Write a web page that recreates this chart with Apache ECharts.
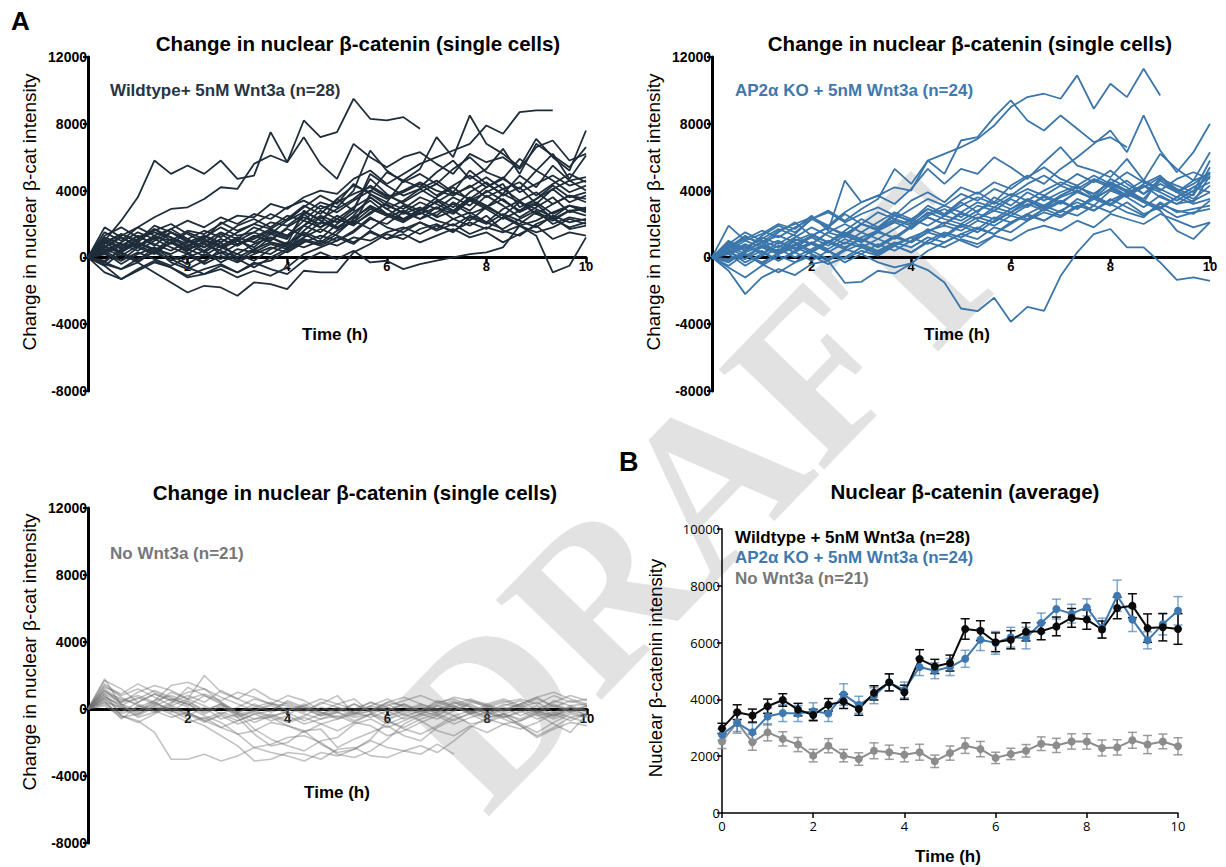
<!DOCTYPE html>
<html><head><meta charset="utf-8">
<script src="https://cdn.jsdelivr.net/npm/echarts@6/dist/echarts.min.js"></script>
<style>html,body{margin:0;padding:0;background:#fff}#c{width:1226px;height:867px}</style>
</head><body><div id="c"></div>
<script>
// Time points (h), every 20 min
const timeH = [0,0.333,0.667,1,1.333,1.667,2,2.333,2.667,3,3.333,3.667,4,4.333,4.667,5,5.333,5.667,6,6.333,6.667,7,7.333,7.667,8,8.333,8.667,9,9.333,9.667,10];
const xTicks = [0,2,4,6,8,10];

// Wildtype + 5nM Wnt3a single cells (change in nuclear beta-cat intensity)
const wtCells = [
[0,1000,2200,3600,5800,5000,5500,5000,5800,4700,4900,7500,5700,8200,7200,7500,9500,8300,8200,8400,7700],
[0,600,1300,1800,2400,2900,3000,3500,4200,4100,5600,6100,5700,7200,5600,4700,6800,6000,5400,6000,6300,5600,5000,6200,5700,6000,5300,6600,7000,5800,6200],
[0,300,800,600,1200,1000,1600,1400,2000,2500,2400,3200,2900,3600,4000,3800,4700,5200,4400,5000,5600,6000,6400,6800,7900,7400,8700,8800,8800],
[0,-300,500,900,400,1100,700,1300,900,1500,2000,1700,2300,3100,2600,3500,4300,3900,5100,4600,5300,7200,6000,8500,6800,6200,5400,7100,6000,5200,7600],
[0,1500,1000,1800,1300,800,1500,1100,2100,1600,2000,2600,2200,3000,3700,3200,4400,3800,3300,4600,4200,5100,5800,4700,5300,6500,5000,6800,6100,5400,6600],
[0,800,1400,900,1700,1200,600,1200,1800,1300,1500,2100,1900,2600,3300,3000,4000,6400,5200,4500,5000,4400,5300,6000,5100,4700,5900,5200,6200,4700,6100],
[0,1100,600,1300,700,1500,1000,400,1100,700,1300,1000,1800,2400,2000,3500,2800,5000,4300,3700,4100,4600,3900,5200,4400,3800,4900,4200,5500,4600,4800],
[0,400,-200,600,200,900,300,-300,500,1000,600,1400,1100,2600,1800,2300,3000,3600,2900,3400,4100,3500,3000,3900,4500,3700,4200,3200,4100,4600,4000],
[0,900,300,1100,1700,1000,500,900,200,800,1300,900,700,1900,2500,2100,2900,4700,3800,3200,2800,3600,4200,3400,3900,4400,3000,3500,4300,3600,3900],
[0,-500,300,-200,600,100,-400,200,-100,500,300,800,500,1500,1100,2000,2700,3400,2600,2300,2900,2500,3300,2800,3700,3100,2400,3000,3600,2700,3000],
[0,600,1200,700,300,900,400,1000,600,200,800,1200,700,1600,2400,1800,2100,2900,2500,3100,2600,3400,2800,2200,3000,3500,2700,3200,2300,2800,2900],
[0,200,700,1300,800,400,1000,600,1400,800,1100,1600,1300,1900,1500,2300,1900,2700,3200,2600,3000,2400,2800,3600,3100,2500,3300,2900,2400,3100,2700],
[0,1200,800,400,1000,1500,900,1300,700,1100,400,1200,800,2800,2200,1700,2500,3600,2900,2300,2600,3000,2300,2700,2100,2900,3400,2600,2200,2800,2500],
[0,-300,-700,-100,300,-200,200,-400,100,-300,200,600,300,900,1300,1000,1600,2400,1800,1500,2100,1700,2300,1900,2500,1600,1300,2000,2400,1700,1900],
[0,300,-400,200,600,-100,-600,-1000,-500,-900,-400,-200,400,1000,700,1200,800,1600,1100,1400,900,1300,1700,1200,1500,900,1400,1900,1100,1500,1300],
[0,500,100,700,1100,600,200,800,400,0,500,900,600,1200,1700,1300,900,1500,1100,1700,2100,1600,2000,1400,1800,1500,1900,1300,-900,-500,1200],
[0,-500,-1300,-800,-300,-600,-1100,-700,-400,-900,-300,-700,-1000,-200,300,-100,400,-300,-200,-700,-400,-200,0,200,300,600,1900,1500,1800,2300,2000],
[0,-400,-700,-300,-900,-1500,-2100,-1700,-1800,-2300,-1500,-1600,-1900,-800,-900,-900,300,800,1400,1100,1700,2000,1500,2400,2000,2600,2200,1800,2500,2100,2300],
[0,-900,-1300,-700,-200,-600,-1200,-1000,-700,-1200,-800,-1100,-600,200,600,1000,1500,2300,2000,2700,2300,3000,2600,3400,2900,2300,2800,3300,2600,3100,2800],
[0,700,200,-300,400,900,500,100,700,1200,900,1500,1200,1900,2800,2300,2000,2600,3300,2900,3600,3200,2700,3500,3000,3800,3300,2600,3200,3700,3300],
[0,1300,1800,1200,1600,2000,1400,900,1500,1100,1800,1400,2200,2700,2300,2900,3500,4300,3700,3300,3900,4400,3800,4200,4800,4100,4500,3700,4400,5000,4500],
[0,400,900,1500,1100,1700,2200,1800,2400,2000,2600,2300,3000,3400,2900,3300,3800,4200,3600,4000,4500,4000,3700,4300,3600,4100,3400,3900,3200,3700,3500],
[0,1000,500,1100,1500,1200,800,300,900,-100,-600,0,500,1100,800,1400,2300,3100,2600,2200,2800,3300,3900,3500,4200,4800,3900,4400,4900,4300,4600],
[0,-200,400,800,500,-300,-700,-200,300,-200,400,200,800,1400,900,1600,2200,1700,2400,2800,2300,2700,3200,2600,3000,2500,2000,2700,2300,1800,2100],
[0,600,300,900,500,200,700,1100,600,1000,1500,1100,1700,1300,2100,1800,2400,3000,2500,2100,2700,2200,1900,2500,2100,1700,2300,2800,2000,2400,2200],
[0,200,-200,300,-100,-500,0,400,-300,200,-200,500,900,600,1000,700,1200,1000,1500,1800,1400,1900,1600,2100,1700,2400,1900,2200,2700,3100,2900],
[0,1800,1200,700,1300,1700,1100,600,1100,700,1200,1700,1300,2200,1800,2500,2000,3800,3100,2700,3300,2900,3600,3100,4000,3400,2800,3500,4100,3300,3700],
[0,900,1400,1000,1900,1500,1100,1600,1200,1900,2300,1800,2500,2200,3100,2700,3400,4000,3500,3900,4400,3700,4300,4900,4200,4700,4100,5200,4600,3900,4300]
];

// AP2alpha KO + 5nM Wnt3a single cells
const koCells = [
[0,500,1200,900,1600,2000,2400,1900,2700,3300,3700,4200,4000,5800,6200,6600,7100,7900,9000,9600,9800,9500,10900,8900,10400,9600,11300,9700],
[0,800,400,1300,1900,1500,2300,2800,2200,2900,3500,5300,4400,5800,5000,7000,7200,8400,9400,8200,7600,8500,7700,6900,7200,6600],
[0,300,-100,700,400,1100,800,1500,1200,2000,1700,2500,2200,3100,2600,3400,3900,3300,4300,4900,4400,5300,6000,6800,7600,6300,8500,6400,5100,6300,8000],
[0,1900,1000,1400,2000,1700,2500,1600,4600,3300,3700,3200,4100,5300,4400,5300,5000,6000,5400,4700,5700,6600,5500,5200,4800,5900,4600,6200,5300,4600,6300],
[0,600,1300,700,1500,2100,1300,1800,2600,2000,2700,2300,2900,3500,3100,3800,3400,4100,3700,4400,4900,4300,5000,4500,5200,4400,3800,4700,4300,3900,5800],
[0,-300,400,900,300,1000,1400,900,1600,2300,1800,2600,2100,2900,2500,3300,2700,3600,3100,3900,3400,3900,4300,3600,4700,4200,3300,4800,4100,3700,5400],
[0,700,200,-400,300,800,300,900,500,1200,1600,1100,1800,2400,2000,2600,2300,2800,2500,3100,3600,3200,4000,3500,4400,3900,4300,3600,3200,3800,5100],
[0,400,1000,600,200,700,1200,700,1300,900,1500,1200,1900,2400,2000,2700,2300,3000,2700,3400,2900,3700,4200,3800,4500,4000,3500,4600,3900,3300,4900],
[0,-600,-1200,-500,100,-300,400,-100,500,200,800,400,1000,1700,1300,2000,1700,2400,2100,2600,3100,2700,3500,3100,4000,3600,3000,3700,3200,3400,3900],
[0,300,800,300,-200,400,800,300,900,600,1100,700,1200,1600,1900,1600,2200,1900,2500,2200,2900,2500,3100,2800,3500,3000,2500,3200,2800,2600,3400],
[0,200,-500,100,500,0,500,1000,600,1100,700,1300,900,1500,1200,1900,1500,2200,2700,2300,2900,3400,2900,3700,3200,2700,2400,3300,2700,2900,3100],
[0,-200,200,-300,200,600,200,-200,400,800,400,900,600,1200,900,1400,1800,1400,2100,2500,2200,2800,2500,3100,2700,3300,2600,3000,2400,2700,2900],
[0,500,100,600,1000,500,900,400,-100,400,100,700,300,900,600,1100,800,1300,1000,1600,1900,1600,2200,1800,2600,2300,2000,2600,2200,1800,2100],
[0,300,-100,400,-200,300,-200,400,-300,200,-300,-600,-360,-760,-1500,-3060,-3220,-2420,-3860,-2960,-3200,-1120,300,1400,1700,600,600,-300,-1340,-1200,-1400],
[0,-800,-2200,-1200,-700,-1060,-400,-200,-1520,-1460,-800,-960,-360,400,900,1400,1100,1800,1500,2200,2700,2400,3000,3600,3200,3900,3400,3000,3600,4200,3900],
[0,1000,500,1200,800,1400,2300,1800,1300,2000,1600,2200,1900,2700,2300,2000,2600,2300,2900,3400,3000,3600,4000,3500,4100,4600,3800,4400,3900,4600,5000],
[0,-500,200,-400,-900,-300,100,-400,0,600,200,700,300,1000,1500,1200,1700,1400,2000,2600,2200,2800,3300,2800,3400,3900,3300,2800,1600,1100,2100],
[0,800,1500,1000,600,1200,1800,1300,800,1500,1100,1700,2300,1900,2500,2200,2800,3300,2900,3500,3100,3700,4200,3800,4500,4000,4600,4100,3600,4200,4800],
[0,200,600,1100,1700,1300,800,1500,2000,1500,2100,2700,2300,2900,2500,3100,3600,3200,3800,3400,4000,4500,4100,4700,4300,3700,4400,4900,4000,3500,4300],
[0,-100,300,700,300,800,1300,900,1500,1100,600,1200,900,1500,2100,1800,2400,2100,2700,3200,2800,3300,2900,3500,3100,3800,3300,2900,3600,3200,3500],
[0,600,1100,1600,1200,1800,2300,2700,2100,2600,3000,2500,3400,3900,3300,4200,3800,4500,4100,4800,5400,4700,4300,4900,4400,5100,4500,4000,4700,5100,4700],
[0,900,400,900,1300,900,400,900,1400,1000,1600,2100,1700,2500,2900,2400,3100,2800,3500,3000,3700,3300,3900,3500,4100,3700,4200,4800,3900,4400,5100],
[0,400,-300,200,700,300,900,500,1100,700,300,800,1200,800,1400,1000,600,1300],
[0,300,700,200,900,500,1300,1800,1400,2000,1700,2300,2000,2600,3100,2700,3300,3000,3600,4100,3700,4300,3900,4600,4200,3600,4300,3900,3400,4000,4500]
];

// No Wnt3a single cells
const noCells = [
[0,1800,200,-300,200,600,300,-200,100,-300,-100,300,200,-200,400,100,-300,200,-100,300,-100,400,600,200,-200,300,100,-200,500,200,300],
[0,1200,500,800,400,-100,-600,-1000,-1600,-2200,-3100,-3000,-2600,-2700,-3000,-2400,-2300,-2800,-2900,-2500,-2200,-2600,-1900,-1100,-500,-300,-700,-200,300,-100,200],
[0,900,-400,-700,-1400,-3000,-3000,-2700,-3100,-2800,-2300,-2600,-2800,-3100,-2600,-2800,-2400,-1900,-2300,-2500,-2700,-2100,-2700],
[0,600,-200,400,900,500,100,-400,-800,-1500,-2300,-2100,-1700,-1600,-2000,-2700,-2900,-2500,-1800,-900,-400,-200,400,100,-300,200,500,-100,-500,100,-200],
[0,1100,300,-100,500,1400,1600,1200,400,-200,-600,-500,-1000,-1300,-1200,-2300,-1800,-1400,-1000,-1600,-1900,-1100,-600,-300,-800,-400,-900,-1400,-800,-300,-500],
[0,500,-600,200,-200,300,1300,800,300,-300,-1200,-1800,-2200,-2500,-1900,-1700,-900,-600,-1100,-700,-300,-600,-100,300,-200,-500,-100,-600,-300,100,-400],
[0,1500,800,1200,700,200,600,2000,1000,600,1200,600,300,-100,300,800,-300,-100,400,200,-100,300,700,500,100,400,600,300,800,400,600],
[0,400,-400,-800,-300,200,-200,-700,-400,-900,-600,-300,-700,-400,100,-200,-500,-300,-700,-1100,-600,-300,-700,-200,-600,-900,-700,-300,-900,-1400,-300],
[0,700,200,700,300,1000,600,200,-300,100,600,300,800,500,-100,300,600,-200,200,500,800,400,100,500,300,-100,300,700,100,500,200],
[0,1000,600,300,-100,-500,-200,-700,-1100,-1500,-1300,-800,-1000,-1400,-900,-1300,-800,-300,-900,-500,-100,-400,100,-300,0,-500,-200,200,-400,-100,-300],
[0,300,-300,100,500,800,400,-100,300,-400,-200,-500,-100,300,-200,-600,-300,100,-400,-100,300,0,400,-100,-400,0,300,-200,-600,-200,100],
[0,1300,900,1500,1000,600,300,-300,200,-500,-1500,-2200,-2000,-1300,-2100,-2600,-2400,-1800,-700,-1200,-1500,-1000,-400,-900,-700,-300,-1000,-1600,-1100,-500,-800],
[0,800,100,-200,400,-100,-400,100,-600,-300,-800,-400,-200,-700,-300,0,-400,-100,300,-200,200,-300,100,-200,300,600,200,-300,200,-200,-400],
[0,200,-500,-300,200,-200,500,-100,300,-200,100,400,-100,200,-300,100,-200,200,600,100,-300,200,500,100,-300,100,-400,0,400,800,500],
[0,1100,400,600,1100,700,200,800,400,-200,300,-100,500,100,-200,-500,-100,400,-100,300,-200,200,-100,400,200,-200,200,600,200,-100,200],
[0,600,0,-400,100,-300,-800,-500,-1100,-700,-300,-700,-400,-900,-600,-400,-800,-1000,-1600,-1300,-800,-400,-900,-500,-200,-600,-1000,-1700,-1200,-800,-1000],
[0,900,400,1000,1400,1100,600,900,500,1000,700,300,-100,200,600,300,0,400,100,-300,100,-200,300,600,200,-100,300,700,1000,600,300],
[0,400,100,-100,300,0,-300,-600,-200,-500,-100,-400,-800,-500,-900,-600,-200,-500,-100,-600,-300,0,-400,-100,-500,-300,0,-400,-200,-500,-300],
[0,1400,700,200,-100,400,800,400,1100,600,200,-200,100,-300,-600,-200,-700,-300,100,-400,-100,500,200,-200,100,-300,-600,-100,-400,100,-100],
[0,700,300,-500,-200,100,-300,-800,-300,-700,-300,-100,400,0,-400,-100,300,-200,-600,-300,-700,-1300,-1600,-1000,-1400,-900,-1200,-800,-300,-700,-300],
[0,1700,1200,400,900,500,1000,1200,700,300,-100,200,-300,100,-400,-200,300,-100,400,700,300,-100,200,-300,200,500,100,400,-200,200,-100]
];

// Averages (nuclear beta-catenin intensity) and error bars
const wtMean = [2980,3550,3430,3760,3980,3640,3450,3810,3930,3660,4230,4600,4250,5420,5160,5280,6480,6420,6010,6100,6380,6400,6570,6870,6810,6460,7220,7300,6510,6540,6480];
const wtSem  = [180,260,230,250,220,220,200,220,250,220,250,300,250,330,250,280,360,350,330,320,320,300,330,330,340,300,380,420,500,480,540];
const koMean = [2760,3170,2840,3400,3520,3500,3580,3500,4170,3810,4130,4600,4330,5140,5010,5140,5430,6100,5990,6190,6160,6690,7180,7020,7240,6510,7650,6810,6080,6650,7120];
const koSem  = [200,300,330,300,300,280,300,280,380,300,280,300,280,300,280,300,300,380,400,350,380,350,350,330,300,350,550,420,300,380,500];
const noMean = [2520,3190,2490,2840,2610,2410,2020,2370,2020,1900,2190,2140,2050,2140,1820,2110,2370,2250,1940,2080,2190,2440,2380,2520,2520,2290,2310,2560,2410,2520,2350];
const noSem  = [250,380,280,300,250,250,220,250,220,220,280,250,250,280,220,250,270,270,200,200,220,240,250,270,270,280,270,280,320,260,300];

const singleYTicks = {min:-8000, max:12000, interval:4000};
const avgYTicks = {min:0, max:10000, interval:2000};

const C_WT = '#1f2d3a', C_KO = '#3b76ab', C_NO = 'rgba(110,110,110,0.42)';
const AVG_BLACK = '#0a0a0a', AVG_BLUE = '#3d78b0', AVG_GRAY = '#8c8c8c';
const SANS = '"Liberation Sans", Arial, sans-serif';

const chart = echarts.init(document.getElementById('c'), null, {renderer:'svg', width:1226, height:867});

const gridBoxes = [
  {left:88, top:57, width:498, height:334},
  {left:712, top:57, width:498, height:334},
  {left:88, top:508, width:499, height:335},
  {left:722, top:529, width:456, height:284}
];
const grids = gridBoxes.map(g => Object.assign({containLabel:false, outerBoundsMode:'none', show:false}, g));
const plain = v => String(v);

function singleX(i){
  // put the x axis on the y = 0 line
  const off = -gridBoxes[i].height * (0 - singleYTicks.min) / (singleYTicks.max - singleYTicks.min);
  return {gridIndex:i, type:'value', min:0, max:10, interval:2, position:'bottom', offset:off,
    axisLine:{show:true, onZero:false, lineStyle:{color:'#000', width:3}},
    axisTick:{show:true, length:6, lineStyle:{color:'#000', width:2.5}},
    axisLabel:{showMinLabel:false, formatter:plain, color:'#000', fontFamily:SANS, fontWeight:'bold', fontSize:13, margin:3},
    splitLine:{show:false}};
}
function singleY(i){
  return Object.assign({gridIndex:i, type:'value',
    axisLine:{show:true, onZero:false, lineStyle:{color:'#000', width:3}},
    axisTick:{show:true, length:5, lineStyle:{color:'#000', width:2}},
    axisLabel:{formatter:plain, color:'#000', fontFamily:SANS, fontWeight:'bold', fontSize:14, margin:1},
    splitLine:{show:false}}, singleYTicks);
}
const xAxes = [singleX(0), singleX(1), singleX(2), {gridIndex:3, type:'value', min:xTicks[0], max:xTicks[xTicks.length-1], interval:2,
    axisLine:{show:true, onZero:false, lineStyle:{color:'#000', width:1.5}},
    axisTick:{show:true, length:5, lineStyle:{color:'#000', width:1.5}},
    axisLabel:{formatter:plain, color:'#000', fontFamily:'"Open Sans", sans-serif', fontSize:13, margin:6},
    splitLine:{show:false}}];
const yAxes = [singleY(0), singleY(1), singleY(2), Object.assign({gridIndex:3, type:'value',
    axisLine:{show:true, onZero:false, lineStyle:{color:'#000', width:1.5}},
    axisTick:{show:true, length:5, lineStyle:{color:'#000', width:1.5}},
    axisLabel:{formatter:plain, color:'#000', fontFamily:'"Open Sans", sans-serif', fontSize:13, margin:2},
    splitLine:{show:false}}, avgYTicks)];

function cellSeries(list, idx, color, width, prefix){
  return list.map((vals, k) => ({
    type:'line', name:prefix + (k+1), xAxisIndex:idx, yAxisIndex:idx,
    data: vals.map((v, i) => [timeH[i], v]),
    symbol:'none', showSymbol:false, silent:true, animation:false,
    lineStyle:{color:color, width:width}, itemStyle:{color:color}, z:2
  }));
}
function errSeries(mean, sem, color, name){
  return {type:'custom', name:name, xAxisIndex:3, yAxisIndex:3, silent:true, animation:false, z:3,
    data: mean.map((m, i) => [timeH[i], m, sem[i]]),
    encode:{x:0, y:1},
    renderItem: function(params, api){
      const x = api.value(0), y = api.value(1), e = api.value(2);
      const hi = api.coord([x, y + e]), lo = api.coord([x, y - e]);
      const w = 4.5, st = {stroke:color, lineWidth:1.5};
      return {type:'group', children:[
        {type:'line', shape:{x1:hi[0], y1:hi[1], x2:lo[0], y2:lo[1]}, style:st},
        {type:'line', shape:{x1:hi[0]-w, y1:hi[1], x2:hi[0]+w, y2:hi[1]}, style:st},
        {type:'line', shape:{x1:lo[0]-w, y1:lo[1], x2:lo[0]+w, y2:lo[1]}, style:st}
      ]};
    }};
}
function meanSeries(mean, color, name){
  return {type:'line', name:name, xAxisIndex:3, yAxisIndex:3, silent:true, animation:false, z:4,
    data: mean.map((m, i) => [timeH[i], m]),
    symbol:'circle', symbolSize:8, showSymbol:true,
    lineStyle:{color:color, width:2}, itemStyle:{color:color}};
}

const series = [].concat(
  cellSeries(wtCells, 0, C_WT, 1.8, 'WT cell '),
  cellSeries(koCells, 1, C_KO, 1.8, 'KO cell '),
  cellSeries(noCells, 2, C_NO, 1.6, 'No Wnt cell '),
  [errSeries(noMean, noSem, 'rgba(140,140,140,0.85)', 'No Wnt3a SEM'), meanSeries(noMean, AVG_GRAY, 'No Wnt3a (n=21)'),
   errSeries(koMean, koSem, 'rgba(61,120,176,0.65)', 'AP2α KO SEM'), meanSeries(koMean, AVG_BLUE, 'AP2α KO + 5nM Wnt3a (n=24)'),
   errSeries(wtMean, wtSem, AVG_BLACK, 'Wildtype SEM'), meanSeries(wtMean, AVG_BLACK, 'Wildtype + 5nM Wnt3a (n=28)')]
);

function txt(text, x, y, font, fill, align, rot){
  return {type:'text', x:x, y:y, rotation:rot || 0, silent:true, z:10,
    style:{text:text, font:font, fill:fill, textAlign:align || 'left', textVerticalAlign:'middle', align:align || 'left', verticalAlign:'middle'}};
}
const TITLE = 'bold 20.5px ' + SANS, NAME = '19px ' + SANS, NAME2 = '18.5px ' + SANS, NAMEB = 'bold 17px ' + SANS, LEG = 'bold 17px ' + SANS;
const graphics = [
  {type:'text', x:698, y:492, rotation:46*Math.PI/180, silent:true, z:-10,
   style:{text:'DRAFT', font:'bold 222px "Liberation Serif", serif', fill:'#e2e2e2', textAlign:'center', textVerticalAlign:'middle', align:'center', verticalAlign:'middle'}},
  txt('A', 11, 21, 'bold 26px ' + SANS, '#000'),
  txt('B', 619, 462, 'bold 27px ' + SANS, '#000'),
  txt('Change in nuclear β-catenin (single cells)', 358, 43, TITLE, '#000', 'center'),
  txt('Change in nuclear β-catenin (single cells)', 970, 43, TITLE, '#000', 'center'),
  txt('Change in nuclear β-catenin (single cells)', 355, 492, TITLE, '#000', 'center'),
  txt('Nuclear β-catenin (average)', 965, 491, TITLE, '#000', 'center'),
  txt('Change in nuclear β-cat intensity', 29, 212, NAME, '#000', 'center', Math.PI/2),
  txt('Change in nuclear β-cat intensity', 653, 212, NAME, '#000', 'center', Math.PI/2),
  txt('Change in nuclear β-cat intensity', 29, 652, NAME, '#000', 'center', Math.PI/2),
  txt('Nuclear β-catenin intensity', 655, 668, NAME2, '#000', 'center', Math.PI/2),
  txt('Time (h)', 335, 334, NAMEB, '#000', 'center'),
  txt('Time (h)', 957, 334, NAMEB, '#000', 'center'),
  txt('Time (h)', 337, 792, NAMEB, '#000', 'center'),
  txt('Time (h)', 948, 856, NAMEB, '#000', 'center'),
  txt('Wildtype+ 5nM Wnt3a (n=28)', 110, 90, LEG, '#263442'),
  txt('AP2α KO + 5nM Wnt3a (n=24)', 735, 90, LEG, '#3f78ad'),
  txt('No Wnt3a (n=21)', 110, 553, LEG, '#777777'),
  txt('Wildtype + 5nM Wnt3a (n=28)', 735, 537, LEG, '#000'),
  txt('AP2α KO + 5nM Wnt3a (n=24)', 735, 557, LEG, '#3f78ad'),
  txt('No Wnt3a (n=21)', 735, 578, LEG, '#777777')
];

chart.setOption({
  animation:false,
  backgroundColor:'#ffffff',
  grid: grids,
  xAxis: xAxes,
  yAxis: yAxes,
  series: series,
  graphic: graphics
});
</script>
</body></html>
